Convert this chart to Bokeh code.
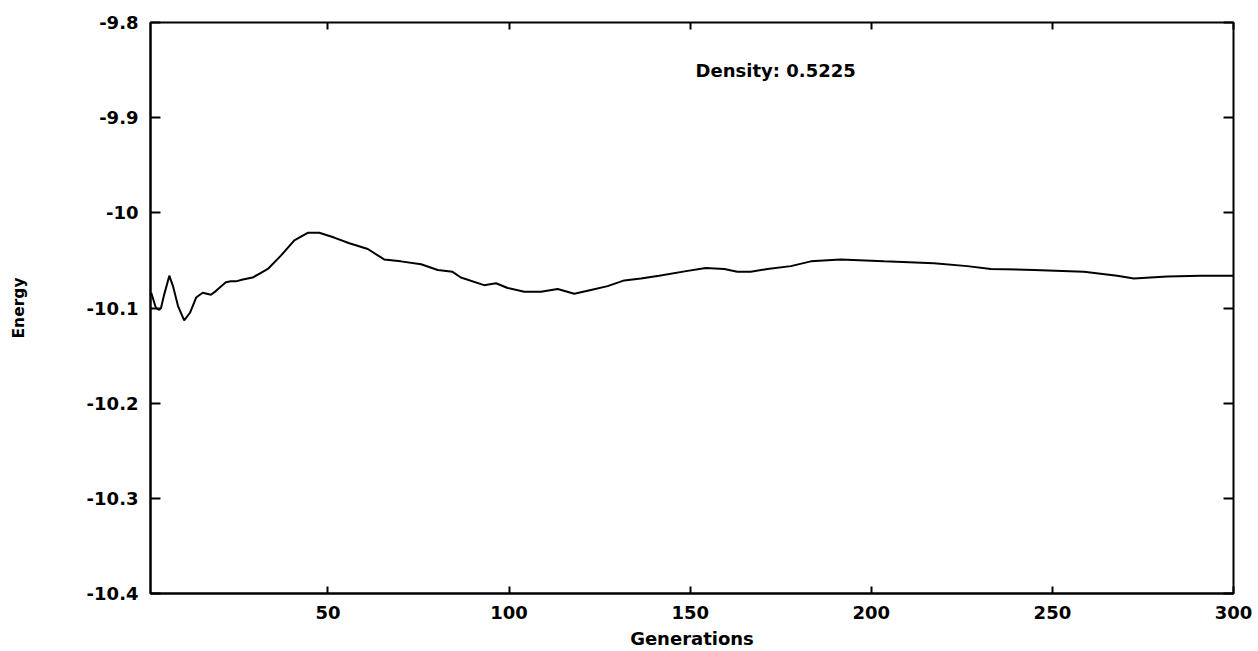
from bokeh.plotting import figure
from bokeh.models import LinearAxis, FixedTicker, Label, Range1d
from bokeh.embed import file_html
from bokeh.resources import INLINE

generations = [1.2, 2.5, 3.4, 3.9, 4.7, 6.2, 7.2, 8.6, 10.3, 11.9, 13.6, 15.4, 17.7, 19.1,
               21.8, 23.2, 24.6, 26.5, 29.2, 31.5, 33.4, 37, 40.7, 44.4, 47.6, 51.7, 55.9,
               61, 65.5, 70.1, 75.7, 80.3, 84.4, 86.7, 93.1, 96.4, 99.6, 104.2, 108.8,
               113.4, 118, 122.6, 127.2, 131.8, 136.4, 141.4, 149.3, 154.3, 159.4, 163,
               166.7, 171.3, 177.8, 183.3, 191.5, 203.5, 217.3, 226.5, 233, 244.9, 258.7,
               267.9, 272.5, 281.7, 290.9, 300]
energy = [-10.084, -10.100, -10.102, -10.100, -10.087, -10.066, -10.077, -10.098, -10.113,
          -10.105, -10.089, -10.084, -10.086, -10.082, -10.073, -10.072, -10.072, -10.070,
          -10.068, -10.063, -10.059, -10.045, -10.029, -10.021, -10.021, -10.026, -10.032,
          -10.038, -10.049, -10.051, -10.054, -10.060, -10.062, -10.068, -10.076, -10.074,
          -10.079, -10.083, -10.083, -10.080, -10.085, -10.081, -10.077, -10.071, -10.069,
          -10.066, -10.061, -10.058, -10.059, -10.062, -10.062, -10.059, -10.056, -10.051,
          -10.049, -10.051, -10.053, -10.056, -10.059, -10.060, -10.062, -10.066, -10.069,
          -10.067, -10.066, -10.066]

x_ticks = [50, 100, 150, 200, 250, 300]
y_ticks = [-9.8, -9.9, -10.0, -10.1, -10.2, -10.3, -10.4]
y_tick_labels = ["-9.8", "-9.9", "-10", "-10.1", "-10.2", "-10.3", "-10.4"]
annotation = "Density: 0.5225"

FONT = "DejaVu Sans"

p = figure(frame_width=1083, frame_height=571, width=1258, height=651,
           x_range=Range1d(1, 300), y_range=Range1d(-10.4, -9.8),
           output_backend="svg", toolbar_location=None,
           x_axis_label="Generations", y_axis_label="Energy")
p.min_border_left = 150
p.min_border_right = 25
p.min_border_top = 22
p.min_border_bottom = 58

p.grid.visible = False
p.outline_line_color = "black"
p.outline_line_width = 2
p.background_fill_color = "white"
p.border_fill_color = "white"

xa = p.xaxis[0]
xa.ticker = FixedTicker(ticks=x_ticks)
xa.major_tick_in = 7
xa.major_tick_out = 0
xa.minor_tick_line_color = None
xa.major_tick_line_width = 2
xa.axis_line_width = 2
xa.major_label_standoff = 12
xa.major_label_text_font = FONT
xa.major_label_text_font_size = "18px"
xa.major_label_text_font_style = "bold"
xa.major_label_text_color = "black"
xa.axis_label_text_font = FONT
xa.axis_label_text_font_size = "18px"
xa.axis_label_text_font_style = "bold"
xa.axis_label_text_color = "black"
xa.axis_label_standoff = 6

ya = p.yaxis[0]
ya.ticker = FixedTicker(ticks=y_ticks)
ya.major_label_overrides = {t: l for t, l in zip(y_ticks, y_tick_labels)}
ya.major_tick_in = 10
ya.major_tick_out = 0
ya.minor_tick_line_color = None
ya.major_tick_line_width = 2
ya.axis_line_width = 2
ya.major_label_standoff = 12
ya.major_label_text_font = FONT
ya.major_label_text_font_size = "18px"
ya.major_label_text_font_style = "bold"
ya.major_label_text_color = "black"
ya.axis_label_text_font = FONT
ya.axis_label_text_font_size = "15.5px"
ya.axis_label_text_font_style = "bold"
ya.axis_label_text_color = "black"
ya.axis_label_standoff = 56

top = LinearAxis(ticker=FixedTicker(ticks=x_ticks), major_tick_in=7, major_tick_out=0,
                 minor_tick_line_color=None, major_tick_line_width=2, axis_line_color=None,
                 major_label_overrides={t: "" for t in x_ticks}, major_label_standoff=0)
right = LinearAxis(ticker=FixedTicker(ticks=y_ticks), major_tick_in=10, major_tick_out=0,
                   minor_tick_line_color=None, major_tick_line_width=2, axis_line_color=None,
                   major_label_overrides={t: "" for t in y_ticks}, major_label_standoff=0)
p.add_layout(top, "above")
p.add_layout(right, "right")

p.line(generations, energy, line_color="black", line_width=2)

p.add_layout(Label(x=173.6, y=-9.8505, text=annotation, text_align="center",
                   text_baseline="middle", text_font=FONT, text_font_size="18px",
                   text_font_style="bold", text_color="black"))

open("out.html", "w").write(file_html(p, INLINE))
